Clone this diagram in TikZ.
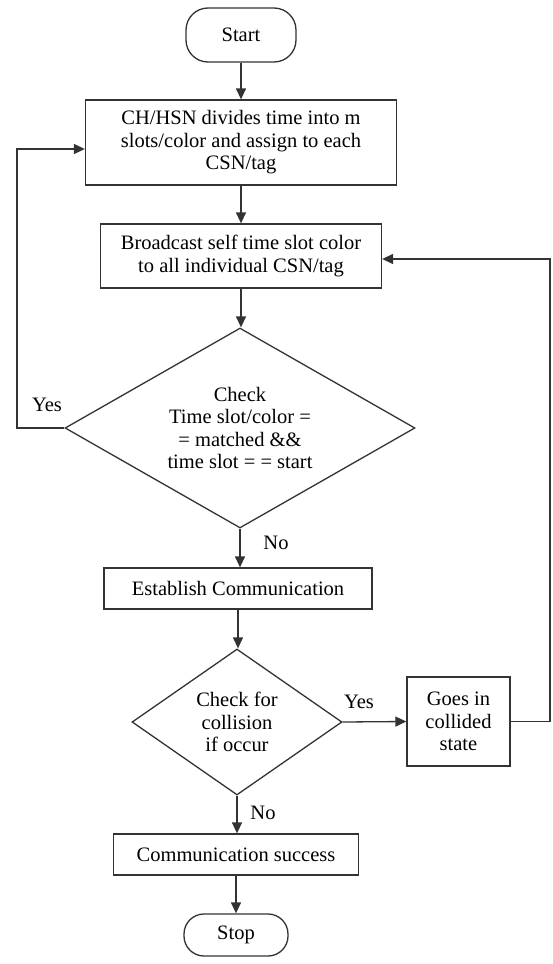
\documentclass[tikz,border=0pt]{standalone}
\usepackage{fontspec}
\setmainfont{LiberationSerif}[Extension=.ttf, UprightFont=*-Regular, BoldFont=*-Bold]
\usetikzlibrary{shapes.geometric,arrows.meta}
\begin{document}
\begin{tikzpicture}[x=1pt,y=-1pt,
  every node/.style={font=\rmfamily\fontsize{20.5}{22.5}\selectfont, text=black},
  edge/.style={line width=1.3pt, draw=black!80},
  arr/.style={edge, -{Triangle[length=11pt,width=10pt]}},
  procbox/.style={draw=black!80, line width=1.3pt, rectangle, inner sep=0pt, align=center},
  termbox/.style={draw=black!80, line width=1.3pt, rectangle, rounded corners=22pt, inner sep=0pt, align=center},
  decbox/.style={draw=black!80, line width=1.3pt, diamond, inner sep=0pt, align=center},
  lbl/.style={inner sep=0pt}
]
\useasboundingbox (0,0) rectangle (552,964);

\node[termbox, minimum width=110pt, minimum height=54pt] (start) at (241,35) {Start};
\node[procbox, minimum width=311pt, minimum height=85pt] (box1) at (241,142.5)
  {CH/HSN divides time into m\\ slots/color and assign to each\\ CSN/tag};
\node[procbox, minimum width=281pt, minimum height=64pt] (box2) at (241,256)
  {Broadcast self time slot color\\ to all individual CSN/tag};
\node[decbox, minimum width=350pt, minimum height=200pt, aspect=1.75] (d1) at (240,428)
  {Check\\ Time slot/color =\\ = matched \&\&\\ time slot = = start};
\node[procbox, minimum width=268pt, minimum height=41pt] (box3) at (238,588.5)
  {Establish Communication};
\node[decbox, minimum width=210pt, minimum height=146pt, aspect=1.44] (d2) at (237,722)
  {Check for\\ collision\\ if occur};
\node[procbox, minimum width=103pt, minimum height=89pt] (box4) at (458.5,721.5)
  {Goes in\\ collided\\ state};
\node[procbox, minimum width=245pt, minimum height=41pt] (box5) at (236,854.5)
  {Communication success};
\node[termbox, minimum width=104pt, minimum height=42pt, rounded corners=20pt] (stop) at (236,935) {Stop};

\coordinate (L) at (17,0);
\coordinate (R) at (550,0);

\draw[arr] (start.south) -- (start.south |- box1.north);
\draw[arr] (box1.south) -- (box1.south |- box2.north);
\draw[arr] (box2.south) -- (box2.south |- d1.north);
\draw[arr] (d1.south) -- (d1.south |- box3.north);
\draw[arr] (box3.south) -- (box3.south |- d2.north);
\draw[arr] (d2.south) -- (d2.south |- box5.north);
\draw[arr] (box5.south) -- (box5.south |- stop.north);
\draw[arr] (d2.east) -- (box4.west);
\draw[arr] (d1.west) -- (d1.west -| L) |- ([yshift=-6.5pt]box1.west);
\draw[arr] (box4.east) -- (box4.east -| R) |- ([yshift=-3pt]box2.east);

\node[lbl] (yes1) at (47,405) {Yes};
\node[lbl] (no1) at (276,543) {No};
\node[lbl] (yes2) at (359,702) {Yes};
\node[lbl] (no2) at (263,813) {No};
\end{tikzpicture}
\end{document}
